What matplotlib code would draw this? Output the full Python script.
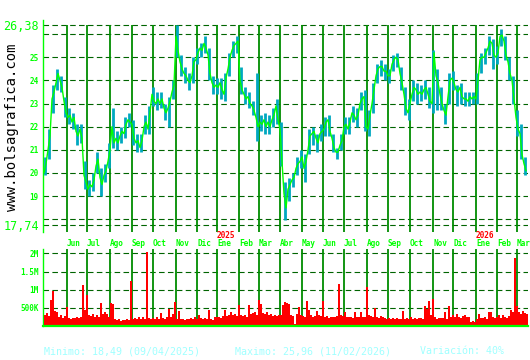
import numpy as np
import pandas as pd
import matplotlib
matplotlib.use('Agg')
import matplotlib.pyplot as plt

# closing price, one value every 2 trading days (from 30/04/2024)
close = [20.0, 20.4, 21.0, 21.6, 23.2, 23.5, 23.9, 24.3, 24.0, 23.7,
         23.1, 22.6, 22.4, 22.5, 22.2, 22.4, 21.8, 21.6, 21.9, 21.5,
         19.9, 19.6, 19.3, 19.5, 19.4, 19.7, 20.3, 20.6, 19.8, 19.5,
         19.9, 20.1, 20.5, 21.0, 22.0, 21.3, 21.5, 21.3, 21.6, 21.8,
         21.7, 22.1, 22.3, 22.2, 22.1, 21.5, 21.3, 21.4, 21.1, 21.4,
         22.0, 22.2, 21.9, 22.6, 23.4, 23.1, 23.0, 23.2, 23.0, 23.2,
         22.8, 22.6, 22.8, 23.1, 23.5, 23.8, 25.9, 25.3, 24.8, 24.5,
         24.3, 24.2, 24.0, 23.9, 24.2, 24.8, 24.9, 25.2, 25.4, 25.3,
         25.6, 25.4, 25.1, 24.3, 23.9, 23.7, 23.8, 23.7, 23.9, 23.6,
         23.4, 24.1, 24.5, 25.0, 25.3, 25.5, 25.6, 25.7, 24.0, 23.6,
         23.4, 23.2, 23.3, 23.0, 22.9, 22.7, 22.4, 22.0, 22.2, 22.1,
         22.3, 22.0, 22.2, 22.0, 22.3, 22.5, 22.9, 22.3, 21.9, 20.5,
         19.1, 18.49, 19.3, 19.5, 19.7, 19.8, 20.2, 20.4, 20.5, 20.7,
         20.2, 20.5, 21.0, 21.6, 21.7, 21.8, 21.5, 21.3, 21.7, 21.8,
         21.9, 22.2, 22.3, 21.8, 21.5, 21.1, 20.9, 20.9, 21.2, 21.4,
         22.0, 22.1, 21.9, 22.2, 22.6, 22.5, 22.3, 22.5, 23.0, 23.2,
         23.3, 22.0, 21.9, 22.5, 23.0, 23.6, 24.2, 24.5, 24.6, 24.6,
         24.4, 24.4, 24.2, 24.2, 24.7, 24.9, 25.0, 24.9, 24.3, 23.9,
         23.4, 22.8, 22.6, 23.0, 23.4, 23.7, 23.6, 23.4, 23.5, 23.4,
         23.6, 23.7, 23.4, 23.1, 23.0, 25.2, 24.2, 23.9, 23.4, 23.0,
         22.7, 22.5, 23.3, 24.0, 24.1, 23.9, 23.6, 23.5, 23.7, 23.3,
         23.2, 23.2, 23.1, 23.3, 23.2, 23.3, 23.2, 24.0, 24.9, 25.0,
         25.0, 25.2, 25.4, 25.7, 25.6, 25.1, 25.0, 25.2, 25.9, 25.96,
         25.7, 25.1, 24.8, 24.3, 24.0, 23.2, 22.4, 21.9, 21.7, 20.8,
         20.4, 20.1]

# high / low of the session, one bar every 4 trading days
high = [20.7, 21.9, 23.8, 24.5, 24.2, 23.3, 22.8, 22.6, 22.1, 22.1,
        20.5, 19.7, 20.0, 20.9, 20.2, 20.4, 21.3, 22.8, 21.8, 22.0,
        22.4, 22.6, 22.3, 21.7, 21.7, 22.5, 22.9, 23.7, 23.5, 23.5,
        23.0, 23.3, 24.0, 26.38, 25.1, 24.6, 24.3, 25.0, 25.4, 25.6,
        25.9, 25.4, 24.2, 24.1, 24.1, 24.3, 25.2, 25.7, 25.9, 24.6,
        23.7, 23.5, 23.1, 24.3, 22.5, 22.6, 22.5, 22.8, 23.2, 22.2,
        19.6, 19.8, 20.0, 20.7, 21.0, 20.8, 21.9, 22.0, 21.7, 22.1,
        22.4, 22.5, 21.7, 21.1, 21.7, 22.4, 22.4, 22.9, 22.8, 23.5,
        23.6, 22.7, 23.9, 24.7, 24.9, 24.7, 24.5, 25.1, 25.2, 24.6,
        23.7, 23.2, 24.0, 23.9, 23.8, 24.0, 23.7, 25.3, 24.5, 23.7,
        23.0, 24.3, 24.4, 23.8, 23.9, 23.5, 23.5, 23.5, 24.3, 25.2,
        25.4, 25.9, 25.8, 25.5, 26.2, 25.9, 25.0, 24.2, 22.7, 22.1,
        20.7]
low = [19.9, 20.6, 22.6, 23.6, 23.5, 22.4, 22.1, 21.9, 21.2, 21.3,
       19.3, 19.0, 19.2, 20.0, 19.0, 19.6, 20.2, 21.1, 21.0, 21.3,
       21.5, 22.0, 21.2, 20.9, 20.9, 21.7, 21.7, 22.9, 22.7, 22.8,
       22.3, 22.0, 23.2, 25.0, 24.2, 23.9, 23.6, 23.9, 24.7, 25.0,
       25.2, 24.0, 23.4, 23.4, 23.2, 23.1, 24.2, 25.0, 25.2, 23.4,
       23.0, 22.8, 22.5, 21.4, 21.8, 21.7, 21.7, 22.0, 22.1, 20.3,
       17.95, 18.8, 19.4, 19.9, 20.2, 19.6, 20.8, 21.2, 20.9, 21.4,
       21.6, 21.6, 20.9, 20.6, 21.0, 21.7, 21.7, 22.2, 22.0, 22.7,
       21.8, 21.6, 22.6, 23.9, 24.2, 24.0, 23.9, 24.4, 24.6, 23.6,
       22.5, 22.3, 23.1, 23.0, 23.1, 23.2, 22.8, 22.6, 22.7, 22.7,
       22.1, 23.0, 23.6, 22.9, 23.0, 22.9, 22.9, 23.0, 23.0, 24.3,
       24.7, 25.1, 24.5, 24.7, 25.5, 24.9, 24.0, 23.0, 21.6, 20.6,
       19.9]

# volume in thousands, one value every 2 trading days
vol = [300, 360, 270, 714, 950, 400, 390, 260, 290, 230,
       280, 520, 220, 200, 230, 210, 250, 220, 240, 1140,
       430, 860, 300, 280, 320, 260, 300, 240, 620, 340,
       380, 330, 250, 640, 600, 200, 160, 180, 150, 170,
       160, 190, 170, 1230, 200, 230, 190, 260, 200, 240,
       180, 2030, 230, 200, 210, 180, 240, 200, 370, 220,
       200, 260, 480, 240, 340, 650, 200, 410, 180, 190,
       170, 200, 180, 220, 190, 240, 200, 300, 220, 200,
       230, 180, 450, 200, 160, 240, 260, 250, 230, 280,
       450, 280, 300, 380, 290, 340, 280, 580, 300, 280,
       310, 260, 590, 330, 360, 380, 300, 715, 600, 350,
       330, 380, 300, 320, 280, 300, 270, 290, 310, 580,
       650, 620, 600, 300, 280, 60, 330, 530, 300, 280,
       250, 680, 430, 300, 260, 280, 420, 300, 280, 700,
       250, 270, 230, 260, 250, 240, 280, 1160, 300, 280,
       380, 250, 260, 240, 230, 380, 250, 260, 380, 240,
       260, 1070, 300, 280, 260, 500, 250, 230, 280, 260,
       210, 200, 220, 190, 210, 200, 230, 200, 180, 400,
       200, 210, 190, 260, 200, 220, 190, 210, 230, 200,
       550, 480, 700, 300, 750, 250, 200, 230, 210, 220,
       380, 200, 540, 240, 300, 250, 320, 260, 230, 280,
       290, 250, 260, 120, 130, 110, 200, 340, 220, 230,
       260, 200, 390, 380, 250, 210, 240, 300, 220, 310,
       250, 230, 280, 450, 380, 1870, 560, 380, 330, 400,
       350, 330]

mes = ['Ene', 'Feb', 'Mar', 'Abr', 'May', 'Jun', 'Jul', 'Ago', 'Sep', 'Oct', 'Nov', 'Dic']
festivos = ['2024-05-01', '2024-12-25', '2024-12-26', '2025-01-01', '2025-05-01', '2026-01-01']
days = pd.bdate_range('2024-04-30', '2026-03-31', freq='C', holidays=festivos)

price_ticks = [17.74, 19, 20, 21, 22, 23, 24, 25, 26.38]
price_grid = [17.74, 18, 19, 20, 21, 22, 23, 24, 25, 26, 26.38]
vol_ticks = [500, 1000, 1500, 2000]
vol_labels = ['500K', '1M', '1.5M', '2M']

GREEN = '#00ff00'
DARK = '#006400'
LINE = '#008c00'
TEAL = '#00a8c0'
MONO = 'DejaVu Sans Mono'

XMAX = 484
# month boundaries in trading-day index (skip the partial first month)
starts = [i for i in range(5, len(days))
          if days[i].month != days[i - 1].month and i < XMAX]

fig = plt.figure(figsize=(5.3, 3.6), dpi=100)
ax = fig.add_axes([43 / 530, 1 - 232 / 360, 485 / 530, 212 / 360])
av = fig.add_axes([43 / 530, 1 - 326 / 360, 485 / 530, 77 / 360])

for a in (ax, av):
    a.set_xlim(-1, XMAX)
    for s in ('top', 'right', 'bottom'):
        a.spines[s].set_visible(False)
    a.spines['left'].set_color(GREEN)
    a.spines['left'].set_linewidth(1.0)
    a.set_xticks([])
    a.tick_params(axis='y', length=0, pad=3, colors=GREEN)

# price panel
ax.set_ylim(17.45, 26.61)
for g in price_grid:
    ax.axhline(g, color=DARK, lw=0.8, ls=(0, (5, 3)), zorder=1)
ax.vlines(starts, 17.45, 26.38, color=LINE, lw=1.3, zorder=2)

xh = np.arange(len(high)) * 4 + 1
ax.vlines(xh, low, high, color=TEAL, lw=2.0, zorder=3)
xc = np.arange(len(close)) * 2
ax.plot(xc, close, color=GREEN, lw=1.0, zorder=4)

ax.set_yticks(price_ticks)
ax.set_yticklabels([f'{t:g}'.replace('.', ',') for t in price_ticks])
for t, lab in zip(price_ticks, ax.get_yticklabels()):
    lab.set_family(MONO)
    if t in (17.74, 26.38):
        lab.set_fontsize(8.5)
    else:
        lab.set_fontsize(5.5)
        lab.set_fontweight('bold')

for i in starts:
    ax.annotate(mes[days[i].month - 1], (i, 17.45), xytext=(0, -8.6),
                textcoords='offset points', fontsize=5.6, family=MONO,
                fontweight='bold', color=GREEN, ha='left', va='center',
                annotation_clip=False)
    if days[i].month == 1:
        ax.annotate(str(days[i].year), (i, 17.45), xytext=(0, -2.6),
                    textcoords='offset points', fontsize=5.6, family=MONO,
                    fontweight='bold', color='red', ha='left', va='center',
                    annotation_clip=False)

# volume panel
av.set_ylim(0, 2120)
for g in vol_ticks:
    av.axhline(g, color=DARK, lw=0.8, ls=(0, (5, 3)), zorder=1)
av.vlines(starts, 0, 2120, color=LINE, lw=1.3, zorder=2)
xv = np.arange(len(vol)) * 2
av.bar(xv, vol, width=2, color='red', linewidth=0, align='edge', zorder=3)
av.axhline(0, color=GREEN, lw=1.6, zorder=4, clip_on=False)
av.set_yticks(vol_ticks)
av.set_yticklabels(vol_labels, family=MONO, fontsize=5.5, fontweight='bold')

fig.text(12 / 530, 1 - 127 / 360, 'www.bolsagrafica.com', rotation=90,
         family=MONO, fontsize=10, color='black', ha='center', va='center')

info = '#a0ffff'
fig.text(44 / 530, 1 - 351 / 360, 'Minimo: 18,49 (09/04/2025)', family=MONO,
         fontsize=7.2, color=info, va='center')
fig.text(235 / 530, 1 - 351 / 360, 'Maximo: 25,96 (11/02/2026)', family=MONO,
         fontsize=7.2, color=info, va='center')
fig.text(420 / 530, 1 - 351 / 360, 'Variación: 40%', family=MONO,
         fontsize=7.2, color=info, va='center')

fig.savefig('out.png', dpi=100)
